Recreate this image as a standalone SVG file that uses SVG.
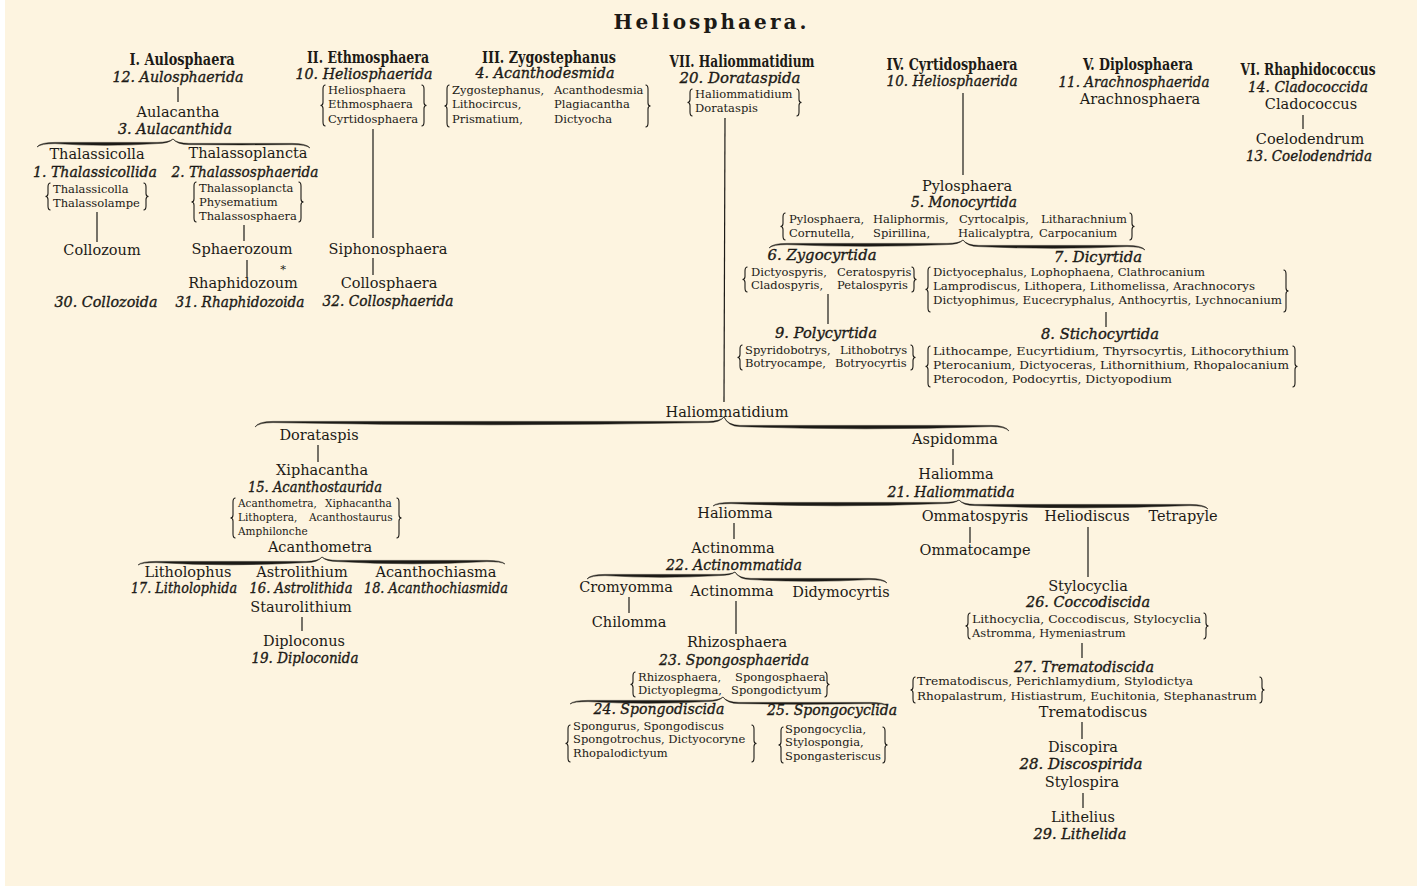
<svg xmlns="http://www.w3.org/2000/svg" width="1417" height="886" viewBox="0 0 1417 886">
<style>
text{fill:#1c1a16;font-family:"DejaVu Serif","Liberation Serif",serif}
.t{font-size:20px;font-weight:bold;text-anchor:middle}
.h{font-size:17.5px;font-weight:bold;font-stretch:condensed;text-anchor:middle}
.n{font-size:14.5px;text-anchor:middle}
.f{font-size:14.5px;font-style:italic;text-anchor:middle;stroke:#1c1a16;stroke-width:0.35}
.l{font-size:11.5px}
.s{font-size:10.5px}
.bk{fill:none;stroke:#1c1a16;stroke-width:1.1}
.ln{stroke:#1c1a16;stroke-width:1.2;fill:none}
.br{fill:#1c1a16;stroke:#1c1a16;stroke-width:0.5}
</style>
<rect x="5" y="0" width="1412" height="886" fill="#fdf4e0"/>
<text class="t" x="710" y="29" textLength="193" lengthAdjust="spacing">Heliosphaera.</text>

<g id="connectors">
<line class="ln" x1="178" y1="87" x2="178" y2="102"/>
<line class="ln" x1="97" y1="212" x2="97" y2="242"/>
<line class="ln" x1="244" y1="225" x2="244" y2="241"/>
<line class="ln" x1="247" y1="260" x2="247" y2="277"/>
<line class="ln" x1="373" y1="129" x2="373" y2="238"/>
<line class="ln" x1="373" y1="258" x2="373" y2="275"/>
<line class="ln" x1="725" y1="118" x2="724" y2="402"/>
<line class="ln" x1="963" y1="93" x2="963" y2="175"/>
<line class="ln" x1="1303" y1="115" x2="1303" y2="129"/>
<line class="ln" x1="828" y1="294" x2="828" y2="324"/>
<line class="ln" x1="1106" y1="312" x2="1106" y2="327"/>
<line class="ln" x1="318" y1="445" x2="318" y2="462"/>
<line class="ln" x1="302" y1="617" x2="302" y2="631"/>
<line class="ln" x1="953" y1="449" x2="953" y2="465"/>
<line class="ln" x1="734" y1="523" x2="734" y2="539"/>
<line class="ln" x1="629" y1="597" x2="629" y2="613"/>
<line class="ln" x1="736" y1="601" x2="736" y2="634"/>
<line class="ln" x1="970" y1="527" x2="970" y2="543"/>
<line class="ln" x1="1088" y1="527" x2="1088" y2="577"/>
<line class="ln" x1="1082" y1="643" x2="1082" y2="658"/>
<line class="ln" x1="1082" y1="722" x2="1082" y2="739"/>
<line class="ln" x1="1083" y1="793" x2="1083" y2="808"/>
<path class="br" d="M37,147 Q40,142.4 55,142.4 L157,142.4 Q169,142.4 173,139 Q169,143.5 157,143.6 Q105,147 55,143.6 Q41,143.6 37,147 Z"/>
<path class="br" d="M173,139 Q177,143.4 189,143.4 L292,143.4 Q307,143.4 310,148 Q306,144.6 292,144.6 Q241.5,145.2 189,144.6 Q177,144.5 173,139 Z"/>
<path class="br" d="M769,248 Q772,243.4 787,243.4 L947,243.4 Q959,243.4 963,240 Q959,244.5 947,244.6 Q866,248 787,244.6 Q773,244.6 769,248 Z"/>
<path class="br" d="M963,240 Q967,245.4 979,245.4 L1127,245.4 Q1142,245.4 1145,250 Q1141,246.6 1127,246.6 Q1054,250 979,246.6 Q967,246.5 963,240 Z"/>
<path class="br" d="M255,427 Q258,421.4 273,421.4 L708,421.4 Q720,421.4 724,417 Q720,422.5 708,422.6 Q489.5,427 273,422.6 Q259,422.6 255,427 Z"/>
<path class="br" d="M724,417 Q728,425.4 740,425.4 L991,425.4 Q1006,425.4 1009,431 Q1005,426.6 991,426.6 Q865.5,431 740,426.6 Q728,426.5 724,417 Z"/>
<path class="br" d="M138,565 Q141,561.4 156,561.4 L306,561.4 Q318,561.4 322,557 Q318,562.5 306,562.6 Q230,567 156,562.6 Q142,562.6 138,565 Z"/>
<path class="br" d="M322,557 Q326,560.4 338,560.4 L487,560.4 Q502,560.4 505,564 Q501,561.6 487,561.6 Q412.5,566 338,561.6 Q326,561.5 322,557 Z"/>
<path class="br" d="M713,506 Q716,502.4 731,502.4 L943,502.4 Q955,502.4 959,500 Q955,503.5 943,503.6 Q836,508 731,503.6 Q717,503.6 713,506 Z"/>
<path class="br" d="M959,500 Q963,504.4 975,504.4 L1190,504.4 Q1205,504.4 1208,509 Q1204,505.6 1190,505.6 Q1082.5,510 975,505.6 Q963,505.5 959,500 Z"/>
<path class="br" d="M587,579 Q590,574.4 605,574.4 L719,574.4 Q731,574.4 735,572 Q731,575.5 719,575.6 Q661,579 605,575.6 Q591,575.6 587,579 Z"/>
<path class="br" d="M735,572 Q739,578.4 751,578.4 L869,578.4 Q884,578.4 887,583 Q883,579.6 869,579.6 Q811,583 751,579.6 Q739,579.5 735,572 Z"/>
<path class="br" d="M570,704 Q573,700.4 588,700.4 L707,700.4 Q719,700.4 723,697 Q719,701.5 707,701.6 Q647.5,705 588,701.6 Q574,701.6 570,704 Z"/>
<path class="br" d="M723,697 Q727,702.4 739,702.4 L870,702.4 Q885,702.4 888,706 Q884,703.6 870,703.6 Q805,705 739,703.6 Q727,703.5 723,697 Z"/>
</g>

<g id="aulosphaera">
<text class="h" x="182" y="65" textLength="105" lengthAdjust="spacingAndGlyphs">I. Aulosphaera</text>
<text class="f" x="178" y="82" textLength="131" lengthAdjust="spacingAndGlyphs">12. Aulosphaerida</text>
</g>
<g id="aulacantha">
<text class="n" x="178" y="117">Aulacantha</text>
<text class="f" x="175" y="134" textLength="114" lengthAdjust="spacingAndGlyphs">3. Aulacanthida</text>
</g>
<g id="thalassicolla">
<text class="n" x="97" y="159">Thalassicolla</text>
<text class="f" x="95" y="177" textLength="124" lengthAdjust="spacingAndGlyphs">1. Thalassicollida</text>
<path class="bk" d="M50.5,183 Q48,183 48,187 L48,193.5 Q48,196.5 45.5,196.5 Q48,196.5 48,199.5 L48,206 Q48,210 50.5,210"/>
<path class="bk" d="M143.5,183 Q146,183 146,187 L146,193.5 Q146,196.5 148.5,196.5 Q146,196.5 146,199.5 L146,206 Q146,210 143.5,210"/>
<text class="l" x="53" y="193">Thalassicolla</text>
<text class="l" x="53" y="207">Thalassolampe</text>
</g>
<g id="collozoum">
<text class="n" x="102" y="255">Collozoum</text>
<text class="f" x="106" y="307" textLength="103" lengthAdjust="spacingAndGlyphs">30. Collozoida</text>
</g>
<g id="thalassoplancta">
<text class="n" x="248" y="158">Thalassoplancta</text>
<text class="f" x="245" y="177" textLength="147" lengthAdjust="spacingAndGlyphs">2. Thalassosphaerida</text>
<path class="bk" d="M196.5,182 Q194,182 194,186 L194,199 Q194,202 191.5,202 Q194,202 194,205 L194,218 Q194,222 196.5,222"/>
<path class="bk" d="M298.5,182 Q301,182 301,186 L301,199 Q301,202 303.5,202 Q301,202 301,205 L301,218 Q301,222 298.5,222"/>
<text class="l" x="199" y="192">Thalassoplancta</text>
<text class="l" x="199" y="206">Physematium</text>
<text class="l" x="199" y="220">Thalassosphaera</text>
</g>
<g id="sphaerozoum">
<text class="n" x="242" y="254">Sphaerozoum</text>
</g>
<g id="rhaphidozoum">
<text class="l" x="283" y="273" text-anchor="middle" font-size="9">*</text>
<text class="n" x="243" y="288">Rhaphidozoum</text>
<text class="f" x="240" y="307" textLength="129" lengthAdjust="spacingAndGlyphs">31. Rhaphidozoida</text>
</g>

<g id="ethmosphaera">
<text class="h" x="368" y="63" textLength="122" lengthAdjust="spacingAndGlyphs">II. Ethmosphaera</text>
<text class="f" x="364" y="79" textLength="137" lengthAdjust="spacingAndGlyphs">10. Heliosphaerida</text>
<path class="bk" d="M325.5,85 Q323,85 323,89 L323,102.5 Q323,105.5 320.5,105.5 Q323,105.5 323,108.5 L323,122 Q323,126 325.5,126"/>
<path class="bk" d="M421.5,85 Q424,85 424,89 L424,102.5 Q424,105.5 426.5,105.5 Q424,105.5 424,108.5 L424,122 Q424,126 421.5,126"/>
<text class="l" x="328" y="94">Heliosphaera</text>
<text class="l" x="328" y="108">Ethmosphaera</text>
<text class="l" x="328" y="123">Cyrtidosphaera</text>
</g>
<g id="siphonosphaera">
<text class="n" x="388" y="254">Siphonosphaera</text>
</g>
<g id="collosphaera">
<text class="n" x="389" y="288">Collosphaera</text>
<text class="f" x="388" y="306" textLength="131" lengthAdjust="spacingAndGlyphs">32. Collosphaerida</text>
</g>

<g id="zygostephanus">
<text class="h" x="549" y="63" textLength="134" lengthAdjust="spacingAndGlyphs">III. Zygostephanus</text>
<text class="f" x="545" y="78" textLength="139" lengthAdjust="spacingAndGlyphs">4. Acanthodesmida</text>
<path class="bk" d="M449.5,85 Q447,85 447,89 L447,103 Q447,106 444.5,106 Q447,106 447,109 L447,123 Q447,127 449.5,127"/>
<path class="bk" d="M645.5,85 Q648,85 648,89 L648,103 Q648,106 650.5,106 Q648,106 648,109 L648,123 Q648,127 645.5,127"/>
<text class="l" x="452" y="94">Zygostephanus,</text>
<text class="l" x="554" y="94">Acanthodesmia</text>
<text class="l" x="452" y="108">Lithocircus,</text>
<text class="l" x="554" y="108">Plagiacantha</text>
<text class="l" x="452" y="123">Prismatium,</text>
<text class="l" x="554" y="123">Dictyocha</text>
</g>

<g id="haliommatidium-group">
<text class="h" x="742" y="67" textLength="145" lengthAdjust="spacingAndGlyphs">VII. Haliommatidium</text>
<text class="f" x="740" y="83" textLength="121" lengthAdjust="spacingAndGlyphs">20. Dorataspida</text>
<path class="bk" d="M692.5,89 Q690,89 690,93 L690,99.5 Q690,102.5 687.5,102.5 Q690,102.5 690,105.5 L690,112 Q690,116 692.5,116"/>
<path class="bk" d="M796.5,89 Q799,89 799,93 L799,99.5 Q799,102.5 801.5,102.5 Q799,102.5 799,105.5 L799,112 Q799,116 796.5,116"/>
<text class="l" x="695" y="98">Haliommatidium</text>
<text class="l" x="695" y="112">Dorataspis</text>
</g>

<g id="cyrtidosphaera">
<text class="h" x="952" y="70" textLength="131" lengthAdjust="spacingAndGlyphs">IV. Cyrtidosphaera</text>
<text class="f" x="952" y="86" textLength="131" lengthAdjust="spacingAndGlyphs">10. Heliosphaerida</text>
</g>
<g id="pylosphaera">
<text class="n" x="967" y="191">Pylosphaera</text>
<text class="f" x="964" y="207" textLength="106" lengthAdjust="spacingAndGlyphs">5. Monocyrtida</text>
<path class="bk" d="M785.5,213 Q783,213 783,217 L783,223.5 Q783,226.5 780.5,226.5 Q783,226.5 783,229.5 L783,236 Q783,240 785.5,240"/>
<path class="bk" d="M1129.5,213 Q1132,213 1132,217 L1132,223.5 Q1132,226.5 1134.5,226.5 Q1132,226.5 1132,229.5 L1132,236 Q1132,240 1129.5,240"/>
<text class="l" x="789" y="223">Pylosphaera,</text>
<text class="l" x="873" y="223">Haliphormis,</text>
<text class="l" x="959" y="223">Cyrtocalpis,</text>
<text class="l" x="1041" y="223">Litharachnium</text>
<text class="l" x="789" y="237">Cornutella,</text>
<text class="l" x="873" y="237">Spirillina,</text>
<text class="l" x="958" y="237">Halicalyptra,</text>
<text class="l" x="1039" y="237">Carpocanium</text>
</g>
<g id="zygocyrtida">
<text class="f" x="822" y="260" textLength="109" lengthAdjust="spacingAndGlyphs">6. Zygocyrtida</text>
<path class="bk" d="M747.5,267 Q745,267 745,271 L745,276.5 Q745,279.5 742.5,279.5 Q745,279.5 745,282.5 L745,288 Q745,292 747.5,292"/>
<path class="bk" d="M911.5,267 Q914,267 914,271 L914,276.5 Q914,279.5 916.5,279.5 Q914,279.5 914,282.5 L914,288 Q914,292 911.5,292"/>
<text class="l" x="751" y="276">Dictyospyris,</text>
<text class="l" x="837" y="276">Ceratospyris</text>
<text class="l" x="751" y="289">Cladospyris,</text>
<text class="l" x="837" y="289">Petalospyris</text>
</g>
<g id="polycyrtida">
<text class="f" x="826" y="338" textLength="102" lengthAdjust="spacingAndGlyphs">9. Polycyrtida</text>
<path class="bk" d="M742.5,345 Q740,345 740,349 L740,354.5 Q740,357.5 737.5,357.5 Q740,357.5 740,360.5 L740,366 Q740,370 742.5,370"/>
<path class="bk" d="M910.5,345 Q913,345 913,349 L913,354.5 Q913,357.5 915.5,357.5 Q913,357.5 913,360.5 L913,366 Q913,370 910.5,370"/>
<text class="l" x="745" y="354">Spyridobotrys,</text>
<text class="l" x="840" y="354">Lithobotrys</text>
<text class="l" x="745" y="367">Botryocampe,</text>
<text class="l" x="835" y="367">Botryocyrtis</text>
</g>
<g id="dicyrtida">
<text class="f" x="1098" y="262" textLength="88" lengthAdjust="spacingAndGlyphs">7. Dicyrtida</text>
<path class="bk" d="M930.5,267 Q928,267 928,271 L928,286.5 Q928,289.5 925.5,289.5 Q928,289.5 928,292.5 L928,308 Q928,312 930.5,312"/>
<path class="bk" d="M1283.5,270 Q1286,270 1286,274 L1286,288 Q1286,291 1288.5,291 Q1286,291 1286,294 L1286,308 Q1286,312 1283.5,312"/>
<text class="l" x="933" y="276" textLength="272" lengthAdjust="spacingAndGlyphs">Dictyocephalus, Lophophaena, Clathrocanium</text>
<text class="l" x="933" y="290" textLength="322" lengthAdjust="spacingAndGlyphs">Lamprodiscus, Lithopera, Lithomelissa, Arachnocorys</text>
<text class="l" x="933" y="304" textLength="349" lengthAdjust="spacingAndGlyphs">Dictyophimus, Eucecryphalus, Anthocyrtis, Lychnocanium</text>
</g>
<g id="stichocyrtida">
<text class="f" x="1100" y="339" textLength="118" lengthAdjust="spacingAndGlyphs">8. Stichocyrtida</text>
<path class="bk" d="M930.5,346 Q928,346 928,350 L928,363.5 Q928,366.5 925.5,366.5 Q928,366.5 928,369.5 L928,383 Q928,387 930.5,387"/>
<path class="bk" d="M1292.5,346 Q1295,346 1295,350 L1295,363.5 Q1295,366.5 1297.5,366.5 Q1295,366.5 1295,369.5 L1295,383 Q1295,387 1292.5,387"/>
<text class="l" x="933" y="355" textLength="356" lengthAdjust="spacingAndGlyphs">Lithocampe, Eucyrtidium, Thyrsocyrtis, Lithocorythium</text>
<text class="l" x="933" y="369" textLength="356" lengthAdjust="spacingAndGlyphs">Pterocanium, Dictyoceras, Lithornithium, Rhopalocanium</text>
<text class="l" x="933" y="383" textLength="239" lengthAdjust="spacingAndGlyphs">Pterocodon, Podocyrtis, Dictyopodium</text>
</g>

<g id="diplosphaera">
<text class="h" x="1138" y="70" textLength="110" lengthAdjust="spacingAndGlyphs">V. Diplosphaera</text>
<text class="f" x="1134" y="87" textLength="151" lengthAdjust="spacingAndGlyphs">11. Arachnosphaerida</text>
<text class="n" x="1140" y="104">Arachnosphaera</text>
</g>
<g id="rhaphidococcus">
<text class="h" x="1308" y="75" textLength="135" lengthAdjust="spacingAndGlyphs">VI. Rhaphidococcus</text>
<text class="f" x="1308" y="92" textLength="120" lengthAdjust="spacingAndGlyphs">14. Cladococcida</text>
<text class="n" x="1311" y="109">Cladococcus</text>
</g>
<g id="coelodendrum">
<text class="n" x="1310" y="144">Coelodendrum</text>
<text class="f" x="1309" y="161" textLength="126" lengthAdjust="spacingAndGlyphs">13. Coelodendrida</text>
</g>

<g id="haliommatidium">
<text class="n" x="727" y="417">Haliommatidium</text>
</g>
<g id="dorataspis">
<text class="n" x="319" y="440">Dorataspis</text>
</g>
<g id="xiphacantha">
<text class="n" x="322" y="475">Xiphacantha</text>
<text class="f" x="315" y="492" textLength="134" lengthAdjust="spacingAndGlyphs">15. Acanthostaurida</text>
<path class="bk" d="M235.5,498 Q233,498 233,502 L233,515 Q233,518 230.5,518 Q233,518 233,521 L233,534 Q233,538 235.5,538"/>
<path class="bk" d="M396.5,498 Q399,498 399,502 L399,515 Q399,518 401.5,518 Q399,518 399,521 L399,534 Q399,538 396.5,538"/>
<text class="s" x="238" y="507">Acanthometra,</text>
<text class="s" x="325" y="507">Xiphacantha</text>
<text class="s" x="238" y="521">Lithoptera,</text>
<text class="s" x="309" y="521">Acanthostaurus</text>
<text class="s" x="238" y="535">Amphilonche</text>
</g>
<g id="acanthometra">
<text class="n" x="320" y="552">Acanthometra</text>
</g>
<g id="litholophus">
<text class="n" x="188" y="577">Litholophus</text>
<text class="f" x="184" y="593" textLength="106" lengthAdjust="spacingAndGlyphs">17. Litholophida</text>
</g>
<g id="astrolithium">
<text class="n" x="302" y="577">Astrolithium</text>
<text class="f" x="301" y="593" textLength="103" lengthAdjust="spacingAndGlyphs">16. Astrolithida</text>
<text class="n" x="301" y="612">Staurolithium</text>
</g>
<g id="diploconus">
<text class="n" x="304" y="646">Diploconus</text>
<text class="f" x="305" y="663" textLength="107" lengthAdjust="spacingAndGlyphs">19. Diploconida</text>
</g>
<g id="acanthochiasma">
<text class="n" x="436" y="577">Acanthochiasma</text>
<text class="f" x="436" y="593" textLength="144" lengthAdjust="spacingAndGlyphs">18. Acanthochiasmida</text>
</g>

<g id="aspidomma">
<text class="n" x="955" y="444">Aspidomma</text>
</g>
<g id="haliomma">
<text class="n" x="956" y="479">Haliomma</text>
<text class="f" x="951" y="497" textLength="127" lengthAdjust="spacingAndGlyphs">21. Haliommatida</text>
</g>
<g id="haliomma-2">
<text class="n" x="735" y="518">Haliomma</text>
</g>
<g id="actinomma">
<text class="n" x="733" y="553">Actinomma</text>
<text class="f" x="734" y="570" textLength="136" lengthAdjust="spacingAndGlyphs">22. Actinommatida</text>
</g>
<g id="cromyomma">
<text class="n" x="626" y="592">Cromyomma</text>
</g>
<g id="chilomma">
<text class="n" x="629" y="627">Chilomma</text>
</g>
<g id="actinomma-2">
<text class="n" x="732" y="596">Actinomma</text>
</g>
<g id="didymocyrtis">
<text class="n" x="841" y="597">Didymocyrtis</text>
</g>
<g id="rhizosphaera">
<text class="n" x="737" y="647">Rhizosphaera</text>
<text class="f" x="734" y="665" textLength="150" lengthAdjust="spacingAndGlyphs">23. Spongosphaerida</text>
<path class="bk" d="M635.5,672 Q633,672 633,676 L633,681.5 Q633,684.5 630.5,684.5 Q633,684.5 633,687.5 L633,693 Q633,697 635.5,697"/>
<path class="bk" d="M824.5,672 Q827,672 827,676 L827,681.5 Q827,684.5 829.5,684.5 Q827,684.5 827,687.5 L827,693 Q827,697 824.5,697"/>
<text class="l" x="638" y="681" font-size="11">Rhizosphaera,</text>
<text class="l" x="735" y="681" font-size="11">Spongosphaera</text>
<text class="l" x="638" y="694" font-size="11">Dictyoplegma,</text>
<text class="l" x="731" y="694" font-size="11">Spongodictyum</text>
</g>
<g id="spongodiscida">
<text class="f" x="659" y="714" textLength="131" lengthAdjust="spacingAndGlyphs">24. Spongodiscida</text>
<path class="bk" d="M570.5,725 Q568,725 568,729 L568,740.5 Q568,743.5 565.5,743.5 Q568,743.5 568,746.5 L568,758 Q568,762 570.5,762"/>
<path class="bk" d="M751.5,725 Q754,725 754,729 L754,740.5 Q754,743.5 756.5,743.5 Q754,743.5 754,746.5 L754,758 Q754,762 751.5,762"/>
<text class="l" x="573" y="730">Spongurus, Spongodiscus</text>
<text class="l" x="573" y="743">Spongotrochus, Dictyocoryne</text>
<text class="l" x="573" y="757">Rhopalodictyum</text>
</g>
<g id="spongocyclida">
<text class="f" x="832" y="715" textLength="130" lengthAdjust="spacingAndGlyphs">25. Spongocyclida</text>
<path class="bk" d="M783.5,727 Q781,727 781,731 L781,742 Q781,745 778.5,745 Q781,745 781,748 L781,759 Q781,763 783.5,763"/>
<path class="bk" d="M882.5,727 Q885,727 885,731 L885,742 Q885,745 887.5,745 Q885,745 885,748 L885,759 Q885,763 882.5,763"/>
<text class="l" x="785" y="733">Spongocyclia,</text>
<text class="l" x="785" y="746">Stylospongia,</text>
<text class="l" x="785" y="760">Spongasteriscus</text>
</g>
<g id="ommatospyris">
<text class="n" x="975" y="521">Ommatospyris</text>
</g>
<g id="ommatocampe">
<text class="n" x="975" y="555">Ommatocampe</text>
</g>
<g id="heliodiscus">
<text class="n" x="1087" y="521">Heliodiscus</text>
</g>
<g id="tetrapyle">
<text class="n" x="1183" y="521">Tetrapyle</text>
</g>
<g id="stylocyclia">
<text class="n" x="1088" y="591">Stylocyclia</text>
<text class="f" x="1088" y="607" textLength="124" lengthAdjust="spacingAndGlyphs">26. Coccodiscida</text>
<path class="bk" d="M970.5,613 Q968,613 968,617 L968,623 Q968,626 965.5,626 Q968,626 968,629 L968,635 Q968,639 970.5,639"/>
<path class="bk" d="M1203.5,613 Q1206,613 1206,617 L1206,623 Q1206,626 1208.5,626 Q1206,626 1206,629 L1206,635 Q1206,639 1203.5,639"/>
<text class="l" x="972" y="623" textLength="229" lengthAdjust="spacingAndGlyphs">Lithocyclia, Coccodiscus, Stylocyclia</text>
<text class="l" x="972" y="637">Astromma, Hymeniastrum</text>
</g>
<g id="trematodiscida">
<text class="f" x="1084" y="672" textLength="140" lengthAdjust="spacingAndGlyphs">27. Trematodiscida</text>
<path class="bk" d="M915.5,677 Q913,677 913,681 L913,687 Q913,690 910.5,690 Q913,690 913,693 L913,699 Q913,703 915.5,703"/>
<path class="bk" d="M1259.5,677 Q1262,677 1262,681 L1262,687 Q1262,690 1264.5,690 Q1262,690 1262,693 L1262,699 Q1262,703 1259.5,703"/>
<text class="l" x="917" y="685" textLength="276" lengthAdjust="spacingAndGlyphs">Trematodiscus, Perichlamydium, Stylodictya</text>
<text class="l" x="917" y="700" textLength="340" lengthAdjust="spacingAndGlyphs">Rhopalastrum, Histiastrum, Euchitonia, Stephanastrum</text>
</g>
<g id="trematodiscus">
<text class="n" x="1093" y="717">Trematodiscus</text>
</g>
<g id="discopira">
<text class="n" x="1083" y="752">Discopira</text>
<text class="f" x="1081" y="769" textLength="123" lengthAdjust="spacingAndGlyphs">28. Discospirida</text>
<text class="n" x="1082" y="787">Stylospira</text>
</g>
<g id="lithelius">
<text class="n" x="1083" y="822">Lithelius</text>
<text class="f" x="1080" y="839" textLength="93" lengthAdjust="spacingAndGlyphs">29. Lithelida</text>
</g>
</svg>
